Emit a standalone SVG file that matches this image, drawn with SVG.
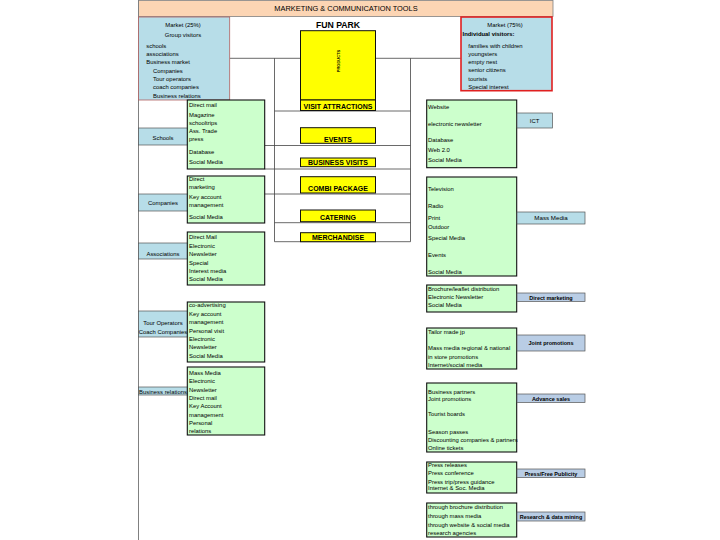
<svg xmlns="http://www.w3.org/2000/svg" width="720" height="540" viewBox="0 0 720 540">
<style>
text{font-family:"Liberation Sans",Arial,sans-serif;font-size:5.9px;fill:#000}
.c{text-anchor:middle}
.b{font-weight:bold}
.mkt{fill:#B7DDE8}
.lbl{fill:#B7DDE8;stroke:#555;stroke-width:0.7}
.lbl2{fill:#B9CDE5;stroke:#555;stroke-width:0.7}
.grn{fill:#CCFFCC;stroke:#111;stroke-width:1.1}
.prd{fill:#FFFF00;stroke:#111;stroke-width:1}
.pt{font-weight:bold;font-size:7px;text-anchor:middle}
.rl{font-weight:bold;font-size:5.5px;text-anchor:middle}
.ln{stroke:#444;stroke-width:0.8;fill:none}
</style>
<rect x="0" y="0" width="720" height="540" fill="#fff"/>
<g id="frame">
<rect x="138.5" y="0.5" width="414.5" height="16" fill="#FCD5B4" stroke="#808080" stroke-width="0.8"/>
<text x="346" y="10.5" class="c" style="font-size:7.4px">MARKETING &amp; COMMUNICATION TOOLS</text>
<line x1="138.5" y1="0" x2="138.5" y2="540" stroke="#808080" stroke-width="1"/>
</g>
<g id="connectors">
<path class="ln" d="M229.7 58.3H300.5M375.5 58.3H460.7M274.5 58.3V241.7M410.5 58.3V241.7M274.5 111H410.5M264.7 145.5H410.5M264.7 169H410.5M264.7 194H410.5M274.5 222.7H410.5M274.5 241.7H410.5"/>
</g>
<g id="market-group">
<rect x="138.5" y="17" width="91.2" height="83" class="mkt" stroke="#B06060" stroke-width="0.8"/>
<text x="183" y="27" class="c">Market (25%)</text>
<text x="183" y="37" class="c">Group visitors</text>
<text x="146.3" y="48">schools</text>
<text x="146.3" y="56">associations</text>
<text x="146.3" y="64.3">Business market</text>
<text x="153" y="72.7">Companies</text>
<text x="153" y="81">Tour operators</text>
<text x="153" y="89.3">coach companies</text>
<text x="153" y="98">Business relations</text>
</g>
<g id="market-individual">
<rect x="461" y="17" width="91" height="73.7" class="mkt" stroke="#E02020" stroke-width="1.6"/>
<text x="505" y="27" class="c">Market (75%)</text>
<text x="462.5" y="36" class="b">Individual visitors:</text>
<text x="468.3" y="47.7">families with children</text>
<text x="468.3" y="55.5">youngsters</text>
<text x="468.3" y="64">empty nest</text>
<text x="468.3" y="72">senior citizens</text>
<text x="468.3" y="81">tourists</text>
<text x="468.3" y="89">Special interest</text>
</g>
<text x="338" y="28" class="c b" style="font-size:8.7px">FUN PARK</text>
<g id="products">
<rect x="300.5" y="30.7" width="75" height="69.3" class="prd"/>
<text transform="translate(340,61) rotate(-90)" class="c b" style="font-size:4px">PRODUCTS</text>
</g>
<g id="visit-attractions"><rect x="300.5" y="100" width="75" height="10.5" class="prd"/><text x="338" y="108.6" class="pt">VISIT ATTRACTIONS</text></g>
<g id="events"><rect x="300.5" y="127.7" width="75" height="15.6" class="prd"/><text x="338" y="141.5" class="pt">EVENTS</text></g>
<g id="business-visits"><rect x="300.5" y="158" width="75" height="8.7" class="prd"/><text x="338" y="165.2" class="pt">BUSINESS VISITS</text></g>
<g id="combi-package"><rect x="300.5" y="176.7" width="75" height="16.3" class="prd"/><text x="338" y="191" class="pt">COMBI PACKAGE</text></g>
<g id="catering"><rect x="300.5" y="210" width="75" height="11.7" class="prd"/><text x="338" y="220" class="pt">CATERING</text></g>
<g id="merchandise"><rect x="300.5" y="232.7" width="75" height="9" class="prd"/><text x="338" y="240.2" class="pt">MERCHANDISE</text></g>

<g id="schools"><rect x="138.5" y="128" width="49.5" height="17" class="lbl"/><text x="163" y="139.5" class="c">Schools</text></g>
<g id="tools-schools"><rect x="187.3" y="100" width="77.4" height="69" class="grn"/>
<text x="189" y="107">Direct mail</text><text x="189" y="117">Magazine</text><text x="189" y="125">schooltrips</text><text x="189" y="133">Ass. Trade</text><text x="189" y="141">press</text><text x="189" y="154">Database</text><text x="189" y="164">Social Media</text></g>

<g id="companies"><rect x="138.5" y="194" width="49.5" height="17" class="lbl"/><text x="163" y="205" class="c">Companies</text></g>
<g id="tools-companies"><rect x="187.3" y="176" width="77.4" height="47" class="grn"/>
<text x="189" y="181">Direct</text><text x="189" y="189">marketing</text><text x="189" y="199">Key account</text><text x="189" y="207">management</text><text x="189" y="219">Social Media</text></g>

<g id="associations"><rect x="138.5" y="243" width="49.5" height="16" class="lbl"/><text x="163" y="256" class="c">Associations</text></g>
<g id="tools-associations"><rect x="187.3" y="232" width="77.4" height="53" class="grn"/>
<text x="189" y="239">Direct Mail</text><text x="189" y="248">Electronic</text><text x="189" y="256">Newsletter</text><text x="189" y="265">Special</text><text x="189" y="273">Interest media</text><text x="189" y="281">Social Media</text></g>

<g id="tour-operators"><rect x="138.5" y="311" width="49.5" height="26" class="lbl"/><text x="163" y="325" class="c">Tour Operators</text><text x="163" y="334" class="c">Coach Companies</text></g>
<g id="tools-tour-operators"><rect x="187.3" y="302" width="77.4" height="60" class="grn"/>
<text x="189" y="307">co-advertising</text><text x="189" y="316">Key account</text><text x="189" y="324">management</text><text x="189" y="333">Personal visit</text><text x="189" y="341">Electronic</text><text x="189" y="349">Newsletter</text><text x="189" y="358">Social Media</text></g>

<g id="business-relations"><rect x="138.5" y="387" width="49.5" height="8" class="lbl"/><text x="163" y="393.5" class="c">Business relations</text></g>
<g id="tools-business-relations"><rect x="187.3" y="367" width="77.4" height="68" class="grn"/>
<text x="189" y="375">Mass Media</text><text x="189" y="383">Electronic</text><text x="189" y="392">Newsletter</text><text x="189" y="400">Direct mail</text><text x="189" y="408">Key Account</text><text x="189" y="417">management</text><text x="189" y="425">Personal</text><text x="189" y="433">relations</text></g>

<g id="ict-tools"><rect x="426.7" y="100" width="90" height="67.7" class="grn"/>
<text x="428" y="108.7">Website</text><text x="428" y="126.3">electronic newsletter</text><text x="428" y="142">Database</text><text x="428" y="152">Web 2.0</text><text x="428" y="162">Social Media</text></g>
<g id="ict"><rect x="517" y="113" width="35.5" height="15" class="lbl"/><text x="534.5" y="122.5" class="c">ICT</text></g>

<g id="mass-media-tools"><rect x="426.7" y="177" width="90" height="99" class="grn"/>
<text x="428" y="191">Television</text><text x="428" y="208">Radio</text><text x="428" y="220">Print</text><text x="428" y="229">Outdoor</text><text x="428" y="240">Special Media</text><text x="428" y="257">Events</text><text x="428" y="274">Social Media</text></g>
<g id="mass-media"><rect x="517" y="212" width="68" height="12" class="lbl"/><text x="551" y="220.2" class="c" style="font-size:6.2px">Mass Media</text></g>

<g id="direct-marketing-tools"><rect x="426.7" y="285" width="90" height="27" class="grn"/>
<text x="428" y="291">Brochure/leaflet distribution</text><text x="428" y="299">Electronic Newsletter</text><text x="428" y="306.5">Social Media</text></g>
<g id="direct-marketing"><rect x="517" y="293" width="68" height="8.5" class="lbl2"/><text x="551" y="299.5" class="rl">Direct marketing</text></g>

<g id="joint-promotions-tools"><rect x="426.7" y="328" width="90" height="41" class="grn"/>
<text x="428" y="334">Tailor made jp</text><text x="428" y="350">Mass media regional &amp; national</text><text x="428" y="359">in store promotions</text><text x="428" y="367">Internet/social media</text></g>
<g id="joint-promotions"><rect x="517" y="335" width="68" height="16" class="lbl2"/><text x="551" y="345" class="rl">Joint promotions</text></g>

<g id="advance-sales-tools"><rect x="426.7" y="383" width="90" height="69" class="grn"/>
<text x="428" y="394">Business partners</text><text x="428" y="400.5">Joint promotions</text><text x="428" y="416">Tourist boards</text><text x="428" y="434">Season passes</text><text x="428" y="442">Discounting companies &amp; partners</text><text x="428" y="450">Online tickets</text></g>
<g id="advance-sales"><rect x="517" y="394" width="68" height="8.5" class="lbl2"/><text x="551" y="400.5" class="rl">Advance sales</text></g>

<g id="publicity-tools"><rect x="426.7" y="462" width="90" height="31" class="grn"/>
<text x="428" y="467">Press releases</text><text x="428" y="475.3">Press conference</text><text x="428" y="483.7">Press trip/press guidance</text><text x="428" y="490.3">Internet &amp; Soc. Media</text></g>
<g id="publicity"><rect x="517" y="469" width="68" height="8.5" class="lbl2"/><text x="551" y="475.5" class="rl">Press/Free Publicity</text></g>

<g id="research-tools"><rect x="426.7" y="503" width="90" height="34" class="grn"/>
<text x="428" y="509">through brochure distribution</text><text x="428" y="518">through mass media</text><text x="428" y="527">through website &amp; social media</text><text x="428" y="535">research agencies</text></g>
<g id="research"><rect x="517" y="512" width="68" height="9" class="lbl2"/><text x="551" y="518.8" class="rl">Research &amp; data mining</text></g>
</svg>
